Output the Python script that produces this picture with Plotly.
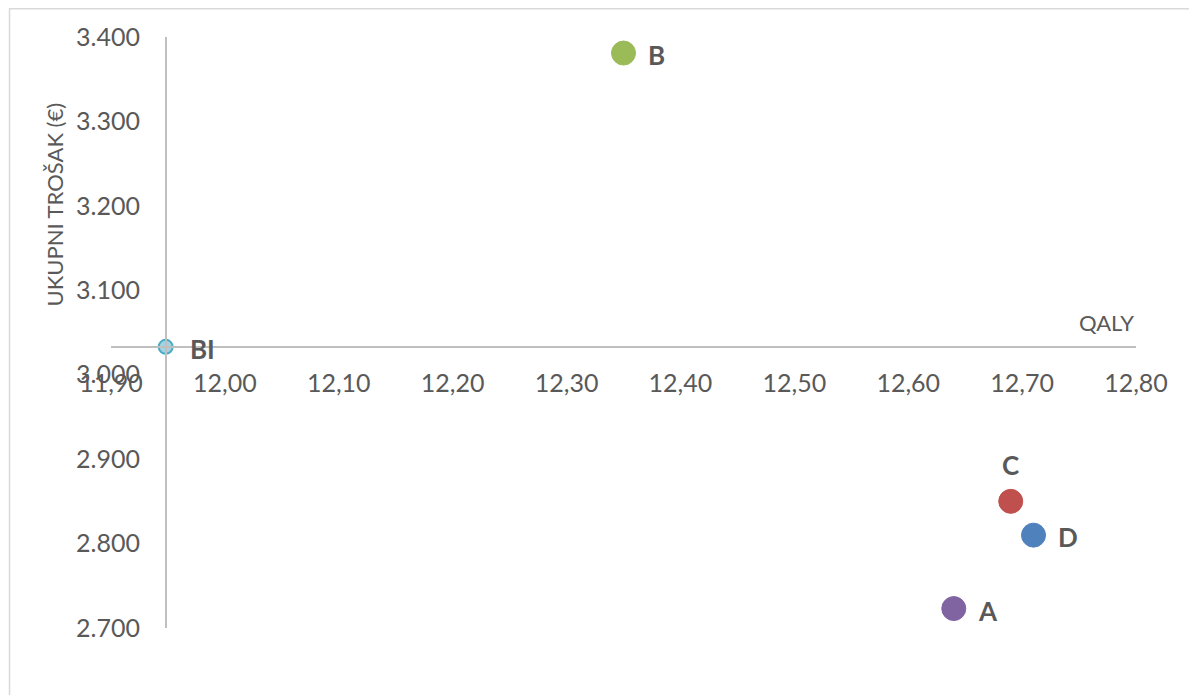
import plotly.graph_objects as go

# Data
names = ["BI", "A", "B", "C", "D"]
qaly = [11.948, 12.64, 12.35, 12.69, 12.71]
cost = [3033, 2723, 3381, 2850, 2810]
colors = ["#a5d2e0", "#8064a2", "#9bbb59", "#c0504d", "#4f81bd"]
line_colors = ["#4bacc6", "#8064a2", "#9bbb59", "#c0504d", "#4f81bd"]
sizes = [14, 24, 24, 24, 24]
label_side = ["right", "right", "right", "top", "right"]

x_ticks = [11.9, 12.0, 12.1, 12.2, 12.3, 12.4, 12.5, 12.6, 12.7, 12.8]
y_ticks = [2700, 2800, 2900, 3000, 3100, 3200, 3300, 3400]
x_range = [11.9, 12.8]
y_range = [2700, 3400]

TXT = "#595959"
FONT = "Lato"

fig = go.Figure()
fig.add_trace(go.Scatter(
    x=qaly, y=cost, mode="markers",
    marker=dict(size=sizes, color=colors, opacity=1,
                line=dict(color=line_colors, width=[2, 1, 1, 1, 1])),
    showlegend=False, cliponaxis=False,
))

annotations = []
for i in range(len(names)):
    if label_side[i] == "right":
        annotations.append(dict(text="<b>" + names[i] + "</b>", x=qaly[i], y=cost[i],
                                xref="x", yref="y", xanchor="left", yanchor="middle",
                                xshift=22, yshift=-2, showarrow=False,
                                font=dict(family=FONT, size=26, color=TXT)))
    else:
        annotations.append(dict(text="<b>" + names[i] + "</b>", x=qaly[i], y=cost[i],
                                xref="x", yref="y", xanchor="center", yanchor="middle",
                                yshift=36, showarrow=False,
                                font=dict(family=FONT, size=26, color=TXT)))

# axis crossing at BI
x_cross = qaly[0]
y_cross = cost[0]
xpos = (y_cross - y_range[0]) / (y_range[1] - y_range[0])
ypos = (x_cross - x_range[0]) / (x_range[1] - x_range[0])

annotations += [
    dict(text="QALY", x=x_range[1], y=y_cross, xref="x", yref="y",
         xanchor="right", yanchor="bottom", yshift=9, showarrow=False,
         font=dict(family=FONT, size=22, color=TXT)),
    dict(text="UKUPNI TROŠAK (€)", x=-0.055, y=0.716, xref="paper", yref="paper",
         xanchor="center", yanchor="middle", textangle=-90, showarrow=False,
         font=dict(family=FONT, size=22, color=TXT)),
]

fig.update_layout(
    width=1189, height=687,
    margin=dict(l=103, r=61, t=29, b=67, autoexpand=False),
    paper_bgcolor="white", plot_bgcolor="white",
    separators=",.",
    font=dict(family=FONT, color=TXT),
    xaxis=dict(range=x_range, tickvals=x_ticks, tickformat=".2f",
               showgrid=False, zeroline=False, showline=True, automargin=False,
               linecolor="#bfbfbf", linewidth=1.5,
               anchor="free", position=xpos,
               ticks="outside", ticklen=14, tickcolor="rgba(0,0,0,0)",
               tickfont=dict(family=FONT, size=25, color=TXT)),
    yaxis=dict(range=y_range, tickvals=y_ticks, tickformat=",.0f",
               showgrid=False, zeroline=False, showline=True, automargin=False,
               linecolor="#bfbfbf", linewidth=1.5,
               anchor="free", position=ypos,
               ticks="outside", ticklen=20, tickcolor="rgba(0,0,0,0)",
               tickfont=dict(family=FONT, size=25, color=TXT)),
    shapes=[dict(type="rect", xref="paper", yref="paper",
                 x0=-0.099, x1=1.0576, y0=-0.2, y1=1.048,
                 line=dict(color="#d9d9d9", width=1.5))],
    annotations=annotations,
)

fig.write_html("out.html")
